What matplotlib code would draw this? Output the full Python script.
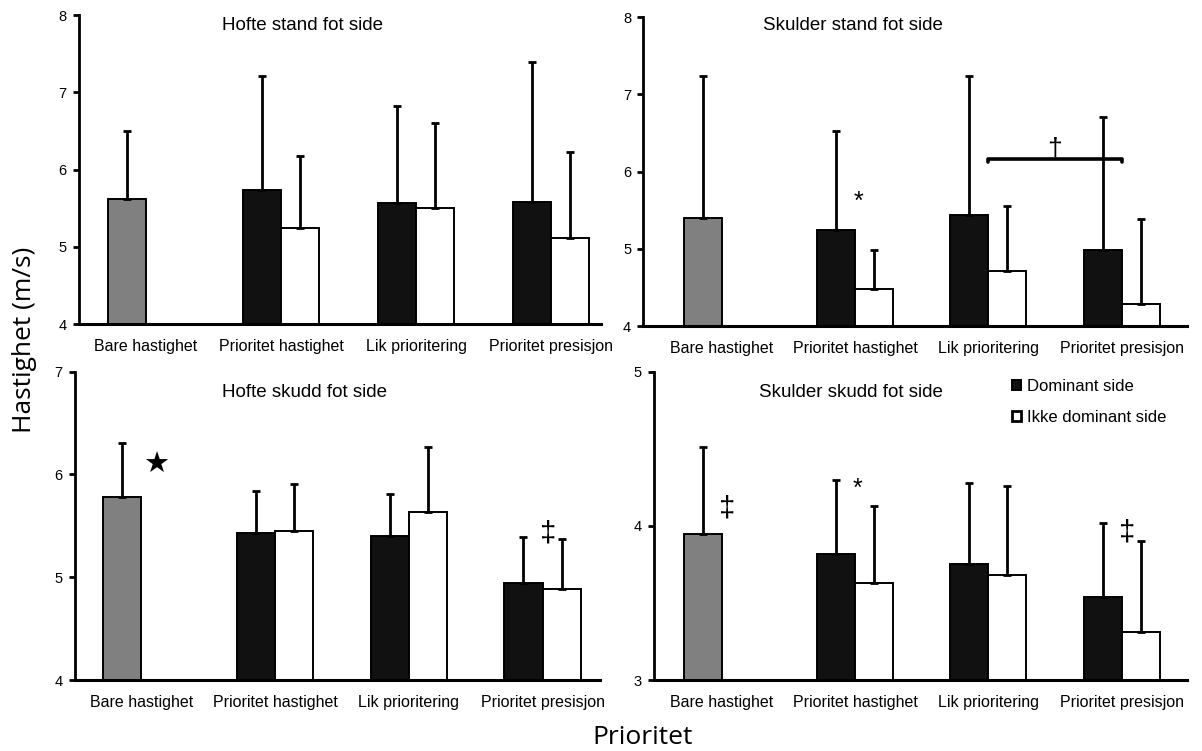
import matplotlib
matplotlib.use("Agg")
import matplotlib.pyplot as plt
from matplotlib.patches import Patch

W, H = 1202, 751

categories = ["Bare hastighet", "Prioritet hastighet", "Lik prioritering", "Prioritet presisjon"]

# Bare hastighet only has one bar (grey), the other three have dominant / non-dominant
hofte_stand_bare = [5.62, 6.50]
hofte_stand_dom = [5.73, 5.57, 5.58]
hofte_stand_dom_sd = [7.21, 6.83, 7.40]
hofte_stand_ikke = [5.25, 5.50, 5.11]
hofte_stand_ikke_sd = [6.18, 6.60, 6.23]

skulder_stand_bare = [5.40, 7.24]
skulder_stand_dom = [5.25, 5.44, 4.99]
skulder_stand_dom_sd = [6.53, 7.24, 6.71]
skulder_stand_ikke = [4.48, 4.71, 4.29]
skulder_stand_ikke_sd = [4.98, 5.56, 5.38]

hofte_skudd_bare = [5.78, 6.31]
hofte_skudd_dom = [5.43, 5.40, 4.94]
hofte_skudd_dom_sd = [5.84, 5.81, 5.39]
hofte_skudd_ikke = [5.45, 5.63, 4.89]
hofte_skudd_ikke_sd = [5.91, 6.27, 5.37]

skulder_skudd_bare = [3.95, 4.51]
skulder_skudd_dom = [3.82, 3.75, 3.54]
skulder_skudd_dom_sd = [4.30, 4.28, 4.02]
skulder_skudd_ikke = [3.63, 3.68, 3.31]
skulder_skudd_ikke_sd = [4.13, 4.26, 3.90]

plt.rcParams["font.family"] = ["Liberation Sans", "DejaVu Sans"]

fig = plt.figure(figsize=(W / 100, H / 100), dpi=100)


def make_ax(x0, spacing, xlim, ytop, ybot, ylim, title, title_xy):
    width = (xlim[1] - xlim[0]) * spacing
    ax = fig.add_axes([x0 / W, 1 - ybot / H, width / W, (ybot - ytop) / H])
    ax.set_xlim(*xlim)
    ax.set_ylim(*ylim)
    ax.spines["top"].set_visible(False)
    ax.spines["right"].set_visible(False)
    ax.spines["left"].set_linewidth(2)
    ax.spines["bottom"].set_linewidth(2.2)
    ax.set_yticks(range(ylim[0], ylim[1] + 1))
    ax.tick_params(axis="y", length=4.5, width=2, labelsize=10.5, pad=4)
    ax.set_xticks(range(len(categories)))
    ax.set_xticklabels(categories)
    ax.tick_params(axis="x", length=0, labelsize=11.5, pad=11)
    fig.text(title_xy[0] / W, 1 - title_xy[1] / H, title, fontsize=13.5,
             ha="center", va="center")
    return ax


def draw(ax, bare, dom, dom_sd, ikke, ikke_sd):
    bw = 0.285
    kw = dict(edgecolor="black", linewidth=1.4, zorder=2)
    ekw = dict(fmt="none", ecolor="black", elinewidth=2, capsize=3, capthick=2, zorder=3)
    ax.bar(-bw / 2, bare[0], bw, bottom=0, color="#808080", **kw)
    ax.errorbar([-bw / 2], [bare[0]], yerr=[[0], [bare[1] - bare[0]]], **ekw)
    xs = [1, 2, 3]
    xd = [x - bw / 2 for x in xs]
    xi = [x + bw / 2 for x in xs]
    ax.bar(xd, dom, bw, color="#111111", **kw)
    ax.bar(xi, ikke, bw, color="white", **kw)
    ax.errorbar(xd, dom, yerr=[[0] * 3, [s - v for s, v in zip(dom_sd, dom)]], **ekw)
    ax.errorbar(xi, ikke, yerr=[[0] * 3, [s - v for s, v in zip(ikke_sd, ikke)]], **ekw)


ax1 = make_ax(78.5, 135, (-0.5, 3.37), 15.3, 324, (4, 8), "Hofte stand fot side", (302, 25))
draw(ax1, hofte_stand_bare, hofte_stand_dom, hofte_stand_dom_sd, hofte_stand_ikke, hofte_stand_ikke_sd)

ax2 = make_ax(643, 133.3, (-0.59, 3.49), 17.3, 326, (4, 8), "Skulder stand fot side", (853, 25))
draw(ax2, skulder_stand_bare, skulder_stand_dom, skulder_stand_dom_sd, skulder_stand_ikke, skulder_stand_ikke_sd)
ax2.text(1.03, 5.61, "*", fontsize=18, ha="center", va="center")
ax2.plot([2, 2, 3, 3], [6.13, 6.16, 6.16, 6.13], color="black", lw=2.6,
         solid_capstyle="round", clip_on=False)
ax2.text(2.5, 6.14, "\u2020", fontsize=19, ha="center", va="bottom")

ax3 = make_ax(74.6, 133.7, (-0.5, 3.43), 371.7, 680, (4, 7), "Hofte skudd fot side", (304, 393))
draw(ax3, hofte_skudd_bare, hofte_skudd_dom, hofte_skudd_dom_sd, hofte_skudd_ikke, hofte_skudd_ikke_sd)
ax3.text(0.11, 6.09, "\u2605", fontsize=21, ha="center", va="center", family="DejaVu Sans")
ax3.text(3.04, 5.43, "\u2021", fontsize=21, ha="center", va="center")

ax4 = make_ax(653.7, 133.3, (-0.51, 3.49), 371.7, 680, (3, 5), "Skulder skudd fot side", (851, 393))
draw(ax4, skulder_skudd_bare, skulder_skudd_dom, skulder_skudd_dom_sd, skulder_skudd_ikke, skulder_skudd_ikke_sd)
ax4.text(0.04, 4.11, "\u2021", fontsize=21, ha="center", va="center")
ax4.text(1.02, 4.24, "*", fontsize=18, ha="center", va="center")
ax4.text(3.04, 3.956, "\u2021", fontsize=21, ha="center", va="center")

handles = [Patch(facecolor="#111111", edgecolor="black", linewidth=1.4),
           Patch(facecolor="white", edgecolor="black", linewidth=2)]
fig.legend(handles, ["Dominant side", "Ikke dominant side"], loc="upper left",
           bbox_to_anchor=(1005 / W, 1 - 372 / H), frameon=False, fontsize=12,
           handlelength=0.55, handleheight=0.55, handletextpad=0.35, labelspacing=1.0,
           borderaxespad=0)

fig.text(25 / W, 1 - 340 / H, "Hastighet (m/s)", rotation=90, fontsize=19,
         ha="center", va="center", family="Open Sans")
fig.text(643 / W, 1 - 738 / H, "Prioritet", fontsize=19, ha="center", va="center",
         family="Open Sans")

fig.savefig("out.png", dpi=100)
